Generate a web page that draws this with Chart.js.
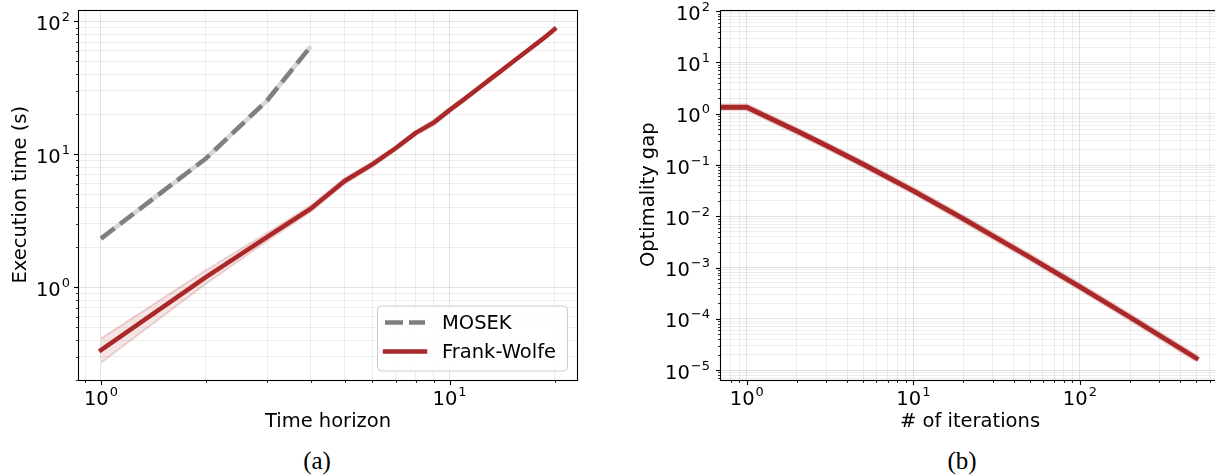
<!DOCTYPE html>
<html>
<head>
<meta charset="utf-8">
<script src="https://cdn.jsdelivr.net/npm/chart.js@4.4.1/dist/chart.umd.min.js"></script>
<style>
    html, body { margin: 0; padding: 0; background: #fff; width: 1215px; height: 476px; overflow: hidden; position: relative; }
    .panel { position: absolute; top: 0; height: 440px; }
    #panelA { left: 0; width: 600px; }
    #panelB { left: 610px; width: 620px; }
    .caption { position: absolute; top: 447px; width: 60px; margin-left: -30px; text-align: center;
               font-family: "Liberation Serif", "DejaVu Serif", serif; font-size: 25px; color: #000; }
</style>
</head>
<body>
<div class="panel" id="panelA"><canvas id="timeChart"></canvas></div>
<div class="panel" id="panelB"><canvas id="gapChart"></canvas></div>
<div class="caption" style="left:317px">(a)</div>
<div class="caption" style="left:962px">(b)</div>
<script>
// (a) execution time vs time horizon
const timeHorizon = [1, 2, 3, 4, 5, 6, 7, 8, 9, 10, 11, 12, 13, 14, 15, 16, 17, 18, 19, 20];
const fwTime     = [0.336, 1.19, 2.39, 3.9, 6.3, 8.4, 11.1, 14.5, 17.3, 21.5, 25.9, 30.9, 36.3, 42.1, 48.4, 55.1, 62.3, 69.9, 78.0, 87.3];
const fwTimeHigh = [0.41, 1.34, 2.56, 4.12, 6.6, 8.75, 11.5, 15.0, 18.2, 22.3, 26.7, 31.8, 37.3, 43.2, 49.6, 56.4, 63.7, 71.4, 79.6, 89.0];
const fwTimeLow  = [0.27, 1.06, 2.23, 3.7, 6.0, 8.05, 10.7, 14.0, 16.4, 20.8, 25.1, 30.0, 35.3, 41.0, 47.2, 53.8, 60.9, 68.4, 76.4, 85.6];
const mosekHorizon = [1, 2, 3, 4];
const mosekTime    = [2.32, 9.3, 25.5, 65];

// (b) optimality gap vs iterations
const iterations = [0, 1, 2, 3, 5, 10, 20, 50, 100, 200, 500];
const optGap     = [1.34, 1.34, 0.46, 0.24, 0.1035, 0.0314, 0.0089, 0.00159, 0.00042, 0.000107, 0.000017];

// labelled (major) ticks
const timeXMajor = [1, 10];
const timeYMajor = [1, 10, 100];
const gapXMajor = [1, 10, 100];
const gapYMajor = [1e-5, 1e-4, 1e-3, 1e-2, 1e-1, 1, 10, 100];

const FONT = '"DejaVu Sans", Verdana, sans-serif';
const RED = '#aa2828';
const GRAY = '#7f7f7f';

Chart.defaults.font.family = FONT;
Chart.defaults.color = '#000';
Chart.defaults.devicePixelRatio = 1;

function pts(xs, ys) {
    return xs.map((x, i) => ({ x: x, y: ys[i] }));
}

// all 1..9 x 10^k ticks inside the range, decades flagged as major
function logTicks(min, max) {
    const out = [];
    for (let e = Math.floor(Math.log10(min)); e <= Math.ceil(Math.log10(max)); e++) {
        for (let d = 1; d <= 9; d++) {
            const v = d * Math.pow(10, e);
            if (v >= min && v <= max) out.push({ value: v, major: d === 1 });
        }
    }
    return out;
}

function gridColor(c) {
    return c.tick && c.tick.major ? 'rgba(0,0,0,0.11)' : 'rgba(0,0,0,0.07)';
}

function logAxis(min, max, fitSize, title, titlePad, isX) {
    return {
        type: 'logarithmic',
        min: min,
        max: max,
        afterBuildTicks: s => { s.ticks = logTicks(min, max); },
        afterFit: s => { if (isX) s.height = fitSize; else s.width = fitSize; },
        ticks: { display: false, autoSkip: false },
        grid: { color: gridColor, lineWidth: 1, drawTicks: false },
        border: { display: false },
        title: { display: true, text: title, font: { size: 19.5 }, color: '#000', padding: titlePad }
    };
}

// 10^n label with a raised exponent, like mathtext
function drawPow(ctx, value, x, y, align) {
    const e = Math.round(Math.log10(value));
    const sup = e < 0 ? '\u2212' + (-e) : String(e);
    ctx.font = '19.5px ' + FONT;
    const wb = ctx.measureText('10').width;
    ctx.font = '13px ' + FONT;
    const ws = ctx.measureText(sup).width;
    const w = wb + ws + 1;
    const x0 = align === 'right' ? x - w : x - w / 2;
    ctx.textAlign = 'left';
    ctx.textBaseline = 'alphabetic';
    ctx.font = '19.5px ' + FONT;
    ctx.fillText('10', x0, y);
    ctx.font = '13px ' + FONT;
    ctx.fillText(sup, x0 + wb + 1, y - 9);
}

// frame, tick marks and tick labels in matplotlib style
const axisDecor = {
    id: 'axisDecor',
    afterDraw(chart, args, opts) {
        const ctx = chart.ctx;
        const a = chart.chartArea;
        const xs = chart.scales.x, ys = chart.scales.y;
        ctx.save();
        ctx.strokeStyle = '#000';
        ctx.fillStyle = '#000';
        ys.ticks.forEach(t => {
            const p = Math.round(ys.getPixelForValue(t.value)) + 0.5;
            const len = t.major ? 5 : 3;
            ctx.lineWidth = t.major ? 1.1 : 0.8;
            ctx.beginPath();
            ctx.moveTo(a.left - len, p);
            ctx.lineTo(a.left, p);
            ctx.stroke();
        });
        xs.ticks.forEach(t => {
            const p = Math.round(xs.getPixelForValue(t.value)) + 0.5;
            const len = t.major ? 5 : 3;
            ctx.lineWidth = t.major ? 1.1 : 0.8;
            ctx.beginPath();
            ctx.moveTo(p, a.bottom);
            ctx.lineTo(p, a.bottom + len);
            ctx.stroke();
        });
        ctx.lineWidth = 1.1;
        const l = Math.round(a.left) - 0.5, t = Math.round(a.top) + 0.5;
        const r = Math.round(a.right) + 0.5, b = Math.round(a.bottom) + 0.5;
        ctx.strokeRect(l, t, r - l, b - t);
        opts.yMajor.forEach(v => drawPow(ctx, v, a.left - opts.yPad, ys.getPixelForValue(v) + 8.5, 'right'));
        opts.xMajor.forEach(v => drawPow(ctx, v, xs.getPixelForValue(v), a.bottom + 25, 'center'));
        ctx.restore();
    }
};

// legend box, lower right inside the axes
const boxLegend = {
    id: 'boxLegend',
    afterDraw(chart, args, opts) {
        if (!opts.items) return;
        const ctx = chart.ctx;
        const a = chart.chartArea;
        const w = 190, h = 65;
        const x = a.right - 10 - w, y = a.bottom - 9.5 - h;
        ctx.save();
        ctx.beginPath();
        ctx.roundRect(x + 0.5, y + 0.5, w, h, 4);
        ctx.fillStyle = 'rgba(255,255,255,0.85)';
        ctx.fill();
        ctx.strokeStyle = '#cccccc';
        ctx.lineWidth = 1;
        ctx.stroke();
        opts.items.forEach((it, i) => {
            const cy = y + 17 + i * 29;
            ctx.beginPath();
            ctx.strokeStyle = it.color;
            ctx.lineWidth = 4.5;
            ctx.setLineDash(it.dash || []);
            ctx.lineCap = it.dash ? 'butt' : 'square';
            ctx.moveTo(x + 8, cy);
            ctx.lineTo(x + 48, cy);
            ctx.stroke();
            ctx.setLineDash([]);
            ctx.fillStyle = '#000';
            ctx.font = '19.5px ' + FONT;
            ctx.textAlign = 'left';
            ctx.textBaseline = 'middle';
            ctx.fillText(it.label, x + 65, cy + 1);
        });
        ctx.restore();
    }
};

// note: lower "order" is drawn on top
new Chart(document.getElementById('timeChart'), {
    type: 'line',
    data: {
        datasets: [
            { label: 'FW upper', data: pts(timeHorizon, fwTimeHigh), borderColor: 'rgba(170,40,40,0.18)', borderWidth: 2,
              backgroundColor: 'rgba(170,40,40,0.12)', fill: '+1', pointRadius: 0, tension: 0, order: 4 },
            { label: 'FW lower', data: pts(timeHorizon, fwTimeLow), borderColor: 'rgba(170,40,40,0.18)', borderWidth: 2,
              pointRadius: 0, fill: false, tension: 0, order: 3 },
            { label: 'MOSEK band', data: pts(mosekHorizon, mosekTime), borderColor: '#d6d6d6', borderWidth: 4.5,
              pointRadius: 0, fill: false, borderJoinStyle: 'round', order: 2 },
            { label: 'MOSEK', data: pts(mosekHorizon, mosekTime), borderColor: GRAY, borderWidth: 4.5, borderDash: [17, 7],
              pointRadius: 0, fill: false, borderJoinStyle: 'round', order: 1 },
            { label: 'Frank-Wolfe', data: pts(timeHorizon, fwTime), borderColor: RED, borderWidth: 4.5,
              pointRadius: 0, fill: false, borderJoinStyle: 'round', borderCapStyle: 'square', order: 0 }
        ]
    },
    options: {
        responsive: true,
        maintainAspectRatio: false,
        animation: false,
        layout: { padding: { top: 9.5, right: 23, left: 0, bottom: 0 } },
        scales: {
            x: logAxis(0.865, 23.2, 60, 'Time horizon', { top: 0, bottom: 6.5 }, true),
            y: logAxis(0.2, 123, 79, 'Execution time (s)', { top: 9.5, bottom: 0 }, false)
        },
        plugins: {
            legend: { display: false },
            tooltip: { enabled: false },
            axisDecor: { xMajor: timeXMajor, yMajor: timeYMajor, yPad: 9 },
            boxLegend: { items: [
                { label: 'MOSEK', color: GRAY, dash: [18, 6] },
                { label: 'Frank-Wolfe', color: RED }
            ] }
        }
    },
    plugins: [axisDecor, boxLegend]
});

new Chart(document.getElementById('gapChart'), {
    type: 'line',
    data: {
        datasets: [
            { label: 'FW band', data: pts(iterations, optGap), borderColor: 'rgba(170,40,40,0.22)', borderWidth: 7.5,
              pointRadius: 0, fill: false, borderJoinStyle: 'round', order: 1 },
            { label: 'Frank-Wolfe', data: pts(iterations, optGap), borderColor: RED, borderWidth: 4.8,
              pointRadius: 0, fill: false, borderJoinStyle: 'round', borderCapStyle: 'square', order: 0 }
        ]
    },
    options: {
        responsive: true,
        maintainAspectRatio: false,
        animation: false,
        layout: { padding: { top: 9.5, right: 11, left: 0, bottom: 0 } },
        scales: {
            x: logAxis(0.73, 684, 60, '# of iterations', { top: 0, bottom: 6.5 }, true),
            y: logAxis(6.4e-6, 108, 111, 'Optimality gap', { top: 27.5, bottom: 0 }, false)
        },
        plugins: {
            legend: { display: false },
            tooltip: { enabled: false },
            axisDecor: { xMajor: gapXMajor, yMajor: gapYMajor, yPad: 11 }
        }
    },
    plugins: [axisDecor, boxLegend]
});
</script>
</body>
</html>
